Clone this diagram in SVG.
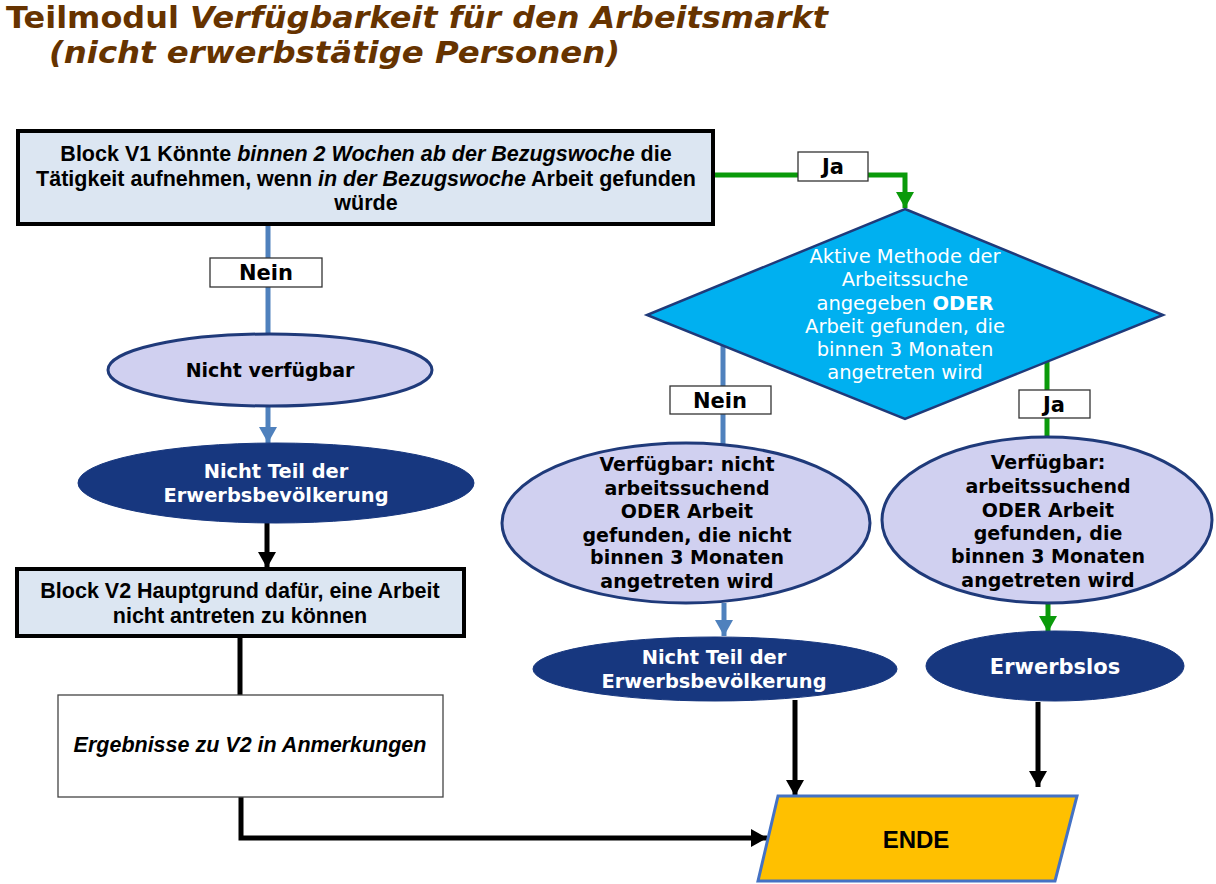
<svg xmlns="http://www.w3.org/2000/svg" width="1216" height="884" viewBox="0 0 1216 884">
<style>
.title{font-family:"DejaVu Sans",Verdana,sans-serif;font-weight:bold;fill:#663300;font-size:30px}
.box{fill:#DCE6F2;stroke:#000;stroke-width:4}
.arial{font-family:"Liberation Sans",Arial,sans-serif;font-weight:bold;fill:#000;font-size:21.5px;text-anchor:middle}
.ver{font-family:"DejaVu Sans",Verdana,sans-serif;font-weight:bold;text-anchor:middle}
.lav{fill:#D0D0F0;stroke:#1F3A7A;stroke-width:3}
.navy{fill:#17377F;stroke:#17377F;stroke-width:1}
.lbl{fill:#fff;stroke:#333;stroke-width:1.3}
.blue{stroke:#4F81BD;stroke-width:5;fill:none}
.green{stroke:#0A9A0A;stroke-width:5;fill:none}
.black{stroke:#000;stroke-width:5;fill:none}
</style>
<defs>
<marker id="ab" markerUnits="userSpaceOnUse" markerWidth="18" markerHeight="18" refX="16" refY="9" orient="auto"><path d="M0,0 L16,9 L0,18 z" fill="#4F81BD"/></marker>
<marker id="ag" markerUnits="userSpaceOnUse" markerWidth="18" markerHeight="18" refX="16" refY="9" orient="auto"><path d="M0,0 L16,9 L0,18 z" fill="#0A9A0A"/></marker>
<marker id="ak" markerUnits="userSpaceOnUse" markerWidth="18" markerHeight="18" refX="16" refY="9" orient="auto"><path d="M0,0 L16,9 L0,18 z" fill="#000"/></marker>
</defs>
<rect width="1216" height="884" fill="#fff"/>
<g id="title">
<text class="title" x="6" y="28" textLength="822" lengthAdjust="spacingAndGlyphs">Teilmodul <tspan font-style="italic">Verfügbarkeit für den Arbeitsmarkt</tspan></text>
<text class="title" x="49" y="63" font-style="italic" textLength="571" lengthAdjust="spacingAndGlyphs">(nicht erwerbstätige Personen)</text>
</g>
<g id="connectors">
<path class="blue" d="M268,225 V335"/>
<path class="blue" d="M268,407 V443" marker-end="url(#ab)"/>
<path class="black" d="M267,522 V568" marker-end="url(#ak)"/>
<path class="black" d="M240,637 V696"/>
<path class="black" d="M241,797 V838 H767" marker-end="url(#ak)"/>
<path class="green" d="M713,175 H905 V208" marker-end="url(#ag)"/>
<path class="blue" d="M723,346 V447"/>
<path class="blue" d="M724,603 V636" marker-end="url(#ab)"/>
<path class="green" d="M1047,362 V440"/>
<path class="green" d="M1048,603 V632" marker-end="url(#ag)"/>
<path class="black" d="M795,700 V796" marker-end="url(#ak)"/>
<path class="black" d="M1038,702 V787" marker-end="url(#ak)"/>
</g>
<g id="v1">
<rect class="box" x="18" y="131" width="695" height="93"/>
<text class="arial" x="366" y="161">Block V1 Könnte <tspan font-style="italic">binnen 2 Wochen ab der Bezugswoche</tspan> die</text>
<text class="arial" x="366" y="185.5">Tätigkeit aufnehmen, wenn <tspan font-style="italic">in der Bezugswoche</tspan> Arbeit gefunden</text>
<text class="arial" x="366" y="210">würde</text>
</g>
<g id="label-nein1">
<rect class="lbl" x="210" y="258" width="112" height="29"/>
<text class="ver" x="266" y="280" font-size="21">Nein</text>
</g>
<g id="nicht-verfuegbar">
<ellipse class="lav" cx="270" cy="370" rx="162" ry="36"/>
<text class="ver" x="270" y="377" font-size="19">Nicht verfügbar</text>
</g>
<g id="ntde1">
<ellipse class="navy" cx="276" cy="483" rx="198" ry="40"/>
<text class="ver" x="276" y="478" font-size="19.4" fill="#fff">Nicht Teil der</text>
<text class="ver" x="276" y="502" font-size="19.4" fill="#fff">Erwerbsbevölkerung</text>
</g>
<g id="v2">
<rect class="box" x="17" y="569" width="447" height="67"/>
<text class="arial" x="240" y="598">Block V2 Hauptgrund dafür, eine Arbeit</text>
<text class="arial" x="240" y="623">nicht antreten zu können</text>
</g>
<g id="ergebnisse">
<rect x="58" y="695" width="385" height="102" fill="#fff" stroke="#444" stroke-width="1.3"/>
<text class="arial" x="250" y="752" font-style="italic">Ergebnisse zu V2 in Anmerkungen</text>
</g>
<g id="label-ja1">
<rect class="lbl" x="798" y="152" width="70" height="29"/>
<text class="ver" x="833" y="174" font-size="21">Ja</text>
</g>
<g id="diamond">
<polygon points="905,209 1163,315 905,419 647,315" fill="#00B0F0" stroke="#1F3A7A" stroke-width="2.5"/>
<g font-family="DejaVu Sans,Verdana,sans-serif" font-size="19.5" fill="#fff" text-anchor="middle">
<text x="905" y="263">Aktive Methode der</text>
<text x="905" y="286">Arbeitssuche</text>
<text x="905" y="309.5">angegeben <tspan font-weight="bold">ODER</tspan></text>
<text x="905" y="333">Arbeit gefunden, die</text>
<text x="905" y="356">binnen 3 Monaten</text>
<text x="905" y="379">angetreten wird</text>
</g>
</g>
<g id="label-nein2">
<rect class="lbl" x="670" y="386" width="101" height="28"/>
<text class="ver" x="720" y="408" font-size="21">Nein</text>
</g>
<g id="label-ja2">
<rect class="lbl" x="1019" y="390" width="71" height="28"/>
<text class="ver" x="1054" y="412" font-size="21">Ja</text>
</g>
<g id="verfuegbar-nicht">
<ellipse class="lav" cx="686" cy="523" rx="184" ry="80"/>
<g class="ver" font-size="19">
<text x="687" y="471">Verfügbar: nicht</text>
<text x="687" y="495">arbeitssuchend</text>
<text x="687" y="518">ODER Arbeit</text>
<text x="687" y="542">gefunden, die nicht</text>
<text x="687" y="564">binnen 3 Monaten</text>
<text x="687" y="588">angetreten wird</text>
</g>
</g>
<g id="verfuegbar">
<ellipse class="lav" cx="1047" cy="520" rx="165" ry="83"/>
<g class="ver" font-size="19">
<text x="1048" y="469">Verfügbar:</text>
<text x="1048" y="493">arbeitssuchend</text>
<text x="1048" y="517">ODER Arbeit</text>
<text x="1048" y="540">gefunden, die</text>
<text x="1048" y="563">binnen 3 Monaten</text>
<text x="1048" y="587">angetreten wird</text>
</g>
</g>
<g id="ntde2">
<ellipse class="navy" cx="715" cy="669" rx="182" ry="32"/>
<text class="ver" x="714" y="664" font-size="19.4" fill="#fff">Nicht Teil der</text>
<text class="ver" x="714" y="688" font-size="19.4" fill="#fff">Erwerbsbevölkerung</text>
</g>
<g id="erwerbslos">
<ellipse class="navy" cx="1055" cy="666" rx="129" ry="35"/>
<text class="ver" x="1055" y="674" font-size="21" fill="#fff">Erwerbslos</text>
</g>
<g id="ende">
<polygon points="778,796 1077,796 1055,881 758,881" fill="#FFC000" stroke="#4472C4" stroke-width="3"/>
<text class="arial" x="916" y="848" style="font-size:24px">ENDE</text>
</g>
</svg>
